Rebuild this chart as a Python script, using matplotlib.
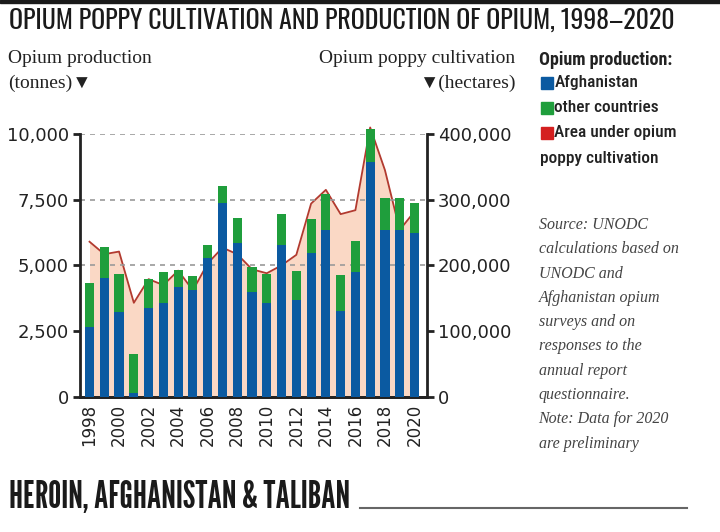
"""
Opium poppy cultivation and production of opium, 1998-2020.
Stacked bars (Afghanistan / other countries) with the cultivated area
drawn as a filled line on a second axis.
"""

import matplotlib
matplotlib.use("Agg")
import matplotlib.pyplot as plt
from matplotlib.patches import Rectangle
from matplotlib.lines import Line2D

# values
years = list(range(1998, 2021))
afghanistan = [2665, 4518, 3236, 152, 3388, 3553, 4188, 4048, 5266, 7360, 5837, 3972,
               3553, 5774, 3680, 5482, 6345, 3274, 4759, 8946, 6345, 6345, 6243]
total = [4315, 5711, 4657, 1624, 4480, 4733, 4822, 4594, 5761, 8033, 6789, 4949,
         4683, 6941, 4797, 6776, 7715, 4632, 5939, 10177, 7550, 7576, 7360]
other = [t - a for t, a in zip(total, afghanistan)]
area_ha = [236000, 217000, 221000, 143000, 179000, 170000, 192000, 162000, 203000,
           227000, 217000, 194000, 188000, 200000, 216000, 294000, 315000, 278000,
           284000, 410000, 345000, 254000, 282000]

left_ticks = [0, 2500, 5000, 7500, 10000]
right_ticks = [0, 100000, 200000, 300000, 400000]
year_ticks = list(range(1998, 2021, 2))

BLUE = "#0b5aa1"
GREEN = "#1f9e3c"
LINE = "#b23a2f"
FILL = "#fad8c5"
DARK = "#222222"

TITLE_FONT = ["Oswald", "League Gothic", "DejaVu Sans"]
HEADLINE = ["League Gothic", "DejaVu Sans"]
CONDENSED = ["Roboto Condensed", "DejaVu Sans"]
SERIF = ["Liberation Serif", "DejaVu Serif"]

fig = plt.figure(figsize=(7.2, 5.32), dpi=100)

# thin dark band on the very top
fig.patches.append(Rectangle((0, 0.994), 1, 0.006, transform=fig.transFigure,
                             color="#1a1a1a", zorder=0))

ax = fig.add_axes([0.111, 0.2543, 0.4815, 0.4938])
ax2 = ax.twinx()

# area under cultivation (right axis), behind everything
ax2.fill_between(years, area_ha, 0, color=FILL, zorder=1, linewidth=0)
ax2.plot(years, area_ha, color=LINE, linewidth=1.3, zorder=2, clip_on=False)
ax2.set_ylim(0, 400000)
ax2.set_zorder(1)
ax.set_zorder(2)
ax.patch.set_visible(False)

# dashed grid lines on the left axis
for level in [5000, 7500, 10000]:
    ax.axhline(level, color="#9a9a9a", linewidth=1.2, linestyle=(0, (3, 3)), zorder=1)

ax.bar(years, afghanistan, width=0.62, color=BLUE, zorder=3, clip_on=False)
ax.bar(years, other, width=0.62, bottom=afghanistan, color=GREEN, zorder=3, clip_on=False)

ax.set_xlim(1997.35, 2020.82)
ax.set_ylim(0, 10000)
ax.set_yticks(left_ticks)
ax.set_yticklabels(["{:,}".format(v) for v in left_ticks])
ax2.set_yticks(right_ticks)
ax2.set_yticklabels(["{:,}".format(v) for v in right_ticks])
ax.set_xticks(year_ticks)
ax.set_xticklabels([str(y) for y in year_ticks], rotation=90)

for a in (ax, ax2):
    a.spines["top"].set_visible(False)
    for s in a.spines.values():
        s.set_linewidth(2)
        s.set_color(DARK)
ax.spines["right"].set_visible(False)
ax2.spines["left"].set_visible(False)

ax.tick_params(axis="y", direction="out", length=5, width=2, colors=DARK,
               labelsize=13, pad=3)
ax2.tick_params(axis="y", direction="out", length=5, width=2, colors=DARK,
                labelsize=13, pad=3)
ax.tick_params(axis="x", length=0, labelsize=12, colors=DARK, pad=5)

# title and footer heading
fig.text(0.012, 0.962, "OPIUM POPPY CULTIVATION AND PRODUCTION OF OPIUM, 1998\u20132020",
         family=TITLE_FONT, fontsize=18.6, fontweight="medium", color="#1a1a1a",
         va="center", ha="left")
fig.text(0.012, 0.065, "HEROIN, AFGHANISTAN & TALIBAN", family=HEADLINE,
         fontsize=26.5, color="#1a1a1a", va="center", ha="left")
fig.lines.append(Line2D([0.5, 0.954], [0.046, 0.046], transform=fig.transFigure,
                        color="#666666", linewidth=1.5))

# axis captions
fig.text(0.011, 0.906, "Opium production\n(tonnes)\u25bc", family=SERIF, fontsize=14,
         color="#222222", va="top", ha="left", linespacing=1.6)
fig.text(0.716, 0.906, "Opium poppy cultivation\n\u25bc(hectares)", family=SERIF,
         fontsize=14, color="#222222", va="top", ha="right", linespacing=1.6,
         multialignment="right")

# legend on the right
fig.text(0.748, 0.888, "Opium production:", family=CONDENSED, fontsize=13,
         fontweight="bold", color="#222222", va="center", ha="left")
legend_items = [("Afghanistan", BLUE), ("other countries", GREEN),
                ("Area under opium", "#d42020")]
for i, (label, colour) in enumerate(legend_items):
    y = 0.844 - i * 0.047
    fig.patches.append(Rectangle((0.752, y - 0.012), 0.0155, 0.024,
                                 transform=fig.transFigure, color=colour))
    fig.text(0.770, y, label, family=CONDENSED, fontsize=12.5, fontweight="medium",
             color="#222222", va="center", ha="left")
fig.text(0.750, 0.703, "poppy cultivation", family=CONDENSED, fontsize=12.5,
         fontweight="medium", color="#222222", va="center", ha="left")

source = ("Source: UNODC\ncalculations based on\nUNODC and\nAfghanistan opium\n"
          "surveys and on\nresponses to the\nannual report\nquestionnaire.\n"
          "Note: Data for 2020\nare preliminary")
fig.text(0.748, 0.592, source, family=SERIF, style="italic", fontsize=11.5,
         color="#444444", va="top", ha="left", linespacing=1.69)

fig.savefig("out.png", dpi=100, facecolor="white")
